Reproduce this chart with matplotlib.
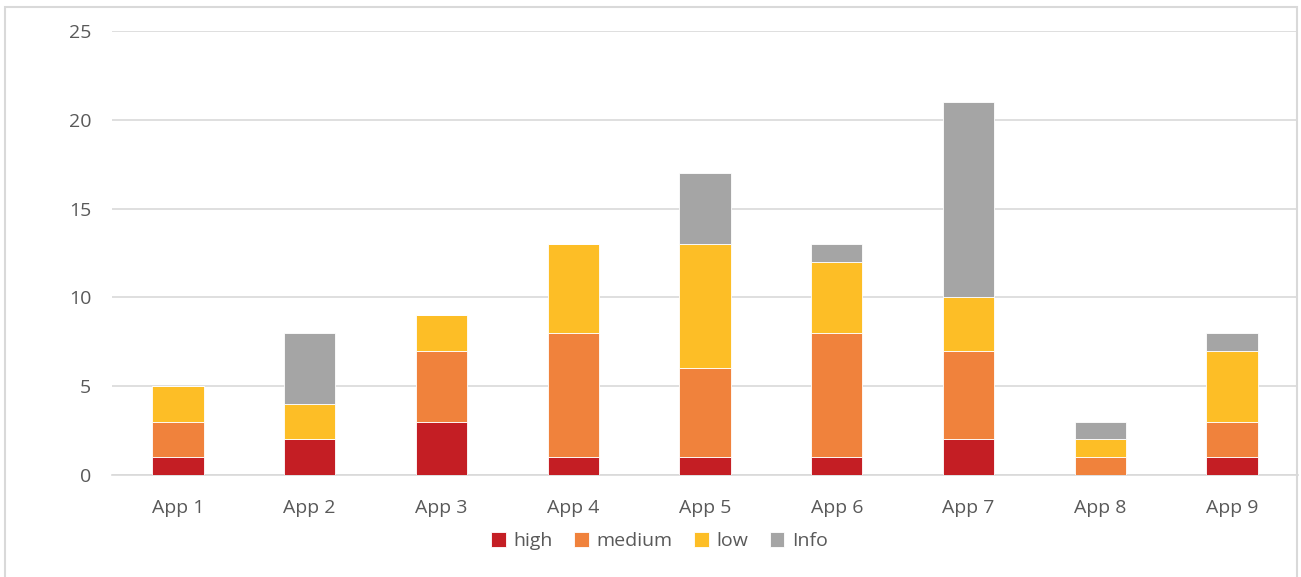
import matplotlib.pyplot as plt
import numpy as np
from matplotlib.patches import Rectangle

apps = ["App 1", "App 2", "App 3", "App 4", "App 5", "App 6", "App 7", "App 8", "App 9"]
high = [1, 2, 3, 1, 1, 1, 2, 0, 1]
medium = [2, 0, 4, 7, 5, 7, 5, 1, 2]
low = [2, 2, 2, 5, 7, 4, 3, 1, 4]
info = [0, 4, 0, 0, 4, 1, 11, 1, 1]

series = [("high", high, "#C41E24"), ("medium", medium, "#F0823C"),
          ("low", low, "#FDBE26"), ("Info", info, "#A5A5A5")]

plt.rcParams['font.family'] = ['Open Sans', 'DejaVu Sans']
txt = "#595959"

fig = plt.figure(figsize=(13.01, 5.77), dpi=100)
ax = fig.add_axes([0.0861, 0.1768, 0.9116, 0.7695])

x = np.arange(len(apps))
bottom = np.zeros(len(apps))
for name, vals, col in series:
    ax.bar(x, vals, 0.39, bottom=bottom, color=col, label=name,
           edgecolor="white", linewidth=0.6, zorder=3)
    bottom += np.array(vals)

ax.set_xlim(-0.5, len(apps) - 0.5)
ax.set_ylim(0, 25)
ax.set_yticks(range(0, 26, 5))
ax.set_xticks(x)
ax.set_xticklabels(apps)
ax.yaxis.grid(True, color="#D9D9D9", linewidth=1.2, zorder=0)
for s in ["top", "right", "left"]:
    ax.spines[s].set_visible(False)
ax.spines["bottom"].set_color("#D9D9D9")
ax.spines["bottom"].set_linewidth(1.2)
ax.tick_params(axis="both", length=0, labelsize=14, colors=txt)
ax.tick_params(axis="x", pad=17)
ax.tick_params(axis="y", pad=15)

fig.legend(loc="center", bbox_to_anchor=(0.507, 0.062), ncol=4, frameon=False,
           fontsize=14, labelcolor=txt, handlelength=0.75, handleheight=0.75,
           handletextpad=0.4, columnspacing=1.1)

fig.patches.append(Rectangle((0.004, -0.01), 0.993, 0.998, transform=fig.transFigure,
                             fill=False, edgecolor="#D9D9D9", linewidth=1.5))

fig.savefig("out.png", dpi=100)
